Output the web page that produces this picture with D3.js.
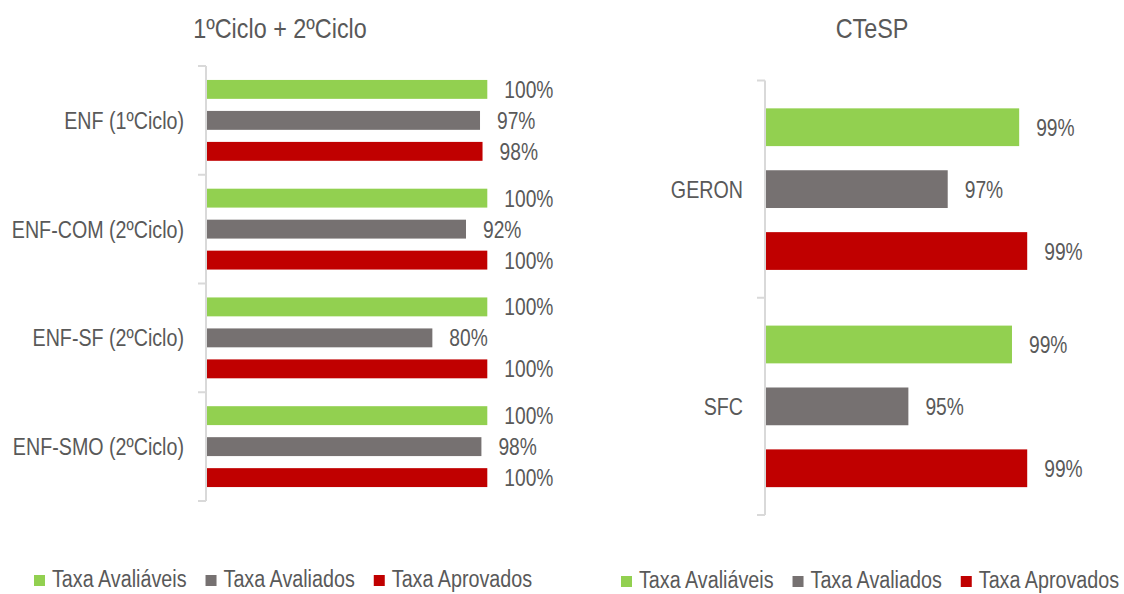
<!DOCTYPE html>
<html>
<head>
<meta charset="utf-8">
<script src="https://cdn.jsdelivr.net/npm/d3@7"></script>
<style>
  html, body { margin: 0; padding: 0; background: #ffffff; }
  svg { display: block; }
  text { font-family: "Liberation Sans", Arial, sans-serif; fill: #595959; }
</style>
</head>
<body>
<svg id="chart" width="1124" height="594"></svg>
<script>
// ---- data ----
const seriesNames = ["Taxa Avaliáveis", "Taxa Avaliados", "Taxa Aprovados"];
const seriesColors = ["#92d050", "#767171", "#c00000"];

const leftTitle = "1ºCiclo + 2ºCiclo";
const leftCategories = ["ENF (1ºCiclo)", "ENF-COM (2ºCiclo)", "ENF-SF (2ºCiclo)", "ENF-SMO (2ºCiclo)"];
const leftAvaliaveis = [1.00, 1.00, 1.00, 1.00];
const leftAvaliados  = [0.974, 0.924, 0.804, 0.979];
const leftAprovados  = [0.983, 1.00, 1.00, 1.00];

const rightTitle = "CTeSP";
const rightCategories = ["GERON", "SFC"];
const rightAvaliaveis = [0.9914, 0.9888];
const rightAvaliados  = [0.9656, 0.9514];
const rightAprovados  = [0.9943, 0.9943];

const svg = d3.select("#chart");
const fmt = d3.format(".0%");

// condensed text helper (emulates a narrow font)
function ntext(parent, x, y, size, anchor, str, sx) {
  return parent.append("text")
    .attr("transform", `translate(${x},${y}) scale(${sx},1)`)
    .attr("text-anchor", anchor || "start")
    .style("font-size", size + "px")
    .text(str);
}

function panel(opts) {
  const { categories, series, xDomain, xRange, yRange, title, titleX } = opts;
  const g = svg.append("g");

  const y0 = d3.scaleBand().domain(categories).range(yRange).padding(0);
  const y1 = d3.scaleBand().domain(seriesNames).range([0, y0.bandwidth()])
    .paddingInner(0.39).paddingOuter(0.45);
  const x = d3.scaleLinear().domain(xDomain).range(xRange);

  // axis line + ticks at category boundaries
  const axisX = xRange[0] - 1;
  g.append("line")
    .attr("x1", axisX).attr("x2", axisX)
    .attr("y1", yRange[0]).attr("y2", yRange[1])
    .attr("stroke", "#d9d9d9").attr("stroke-width", 2);
  const boundaries = categories.map(c => y0(c)).concat([yRange[1]]);
  g.selectAll(".tick").data(boundaries).join("line")
    .attr("x1", axisX - 8).attr("x2", axisX)
    .attr("y1", d => d).attr("y2", d => d)
    .attr("stroke", "#d9d9d9").attr("stroke-width", 2);

  // category labels
  categories.forEach(c => {
    ntext(g, axisX - 22, y0(c) + y0.bandwidth() / 2 + 8.5, 24, "end", c, 0.82);
  });

  // bars
  const rows = [];
  categories.forEach((c, i) => {
    series.forEach((vals, s) => rows.push({ cat: c, s: seriesNames[s], color: seriesColors[s], v: vals[i] }));
  });
  g.selectAll(".bar").data(rows).join("rect")
    .attr("x", xRange[0])
    .attr("y", d => y0(d.cat) + y1(d.s))
    .attr("width", d => x(d.v) - xRange[0])
    .attr("height", y1.bandwidth())
    .attr("fill", d => d.color);

  rows.forEach(d => {
    ntext(g, x(d.v) + 17, y0(d.cat) + y1(d.s) + y1.bandwidth() / 2 + 8.5, 24, "start", fmt(d.v), 0.8);
  });

  // title
  ntext(g, titleX, 38, 28, "middle", title, 0.835);
}

panel({
  categories: leftCategories,
  series: [leftAvaliaveis, leftAvaliados, leftAprovados],
  xDomain: [0, 1], xRange: [207, 487.3], yRange: [66, 501],
  title: leftTitle, titleX: 280
});

panel({
  categories: rightCategories,
  series: [rightAvaliaveis, rightAvaliados, rightAprovados],
  xDomain: [0.9, 1.0], xRange: [766, 1043], yRange: [80.5, 515],
  title: rightTitle, titleX: 872
});

// legends
function legend(x0, baseline) {
  const g = svg.append("g");
  const LS = 0.84;
  let x = x0;
  seriesNames.forEach((name, i) => {
    g.append("rect")
      .attr("x", x).attr("y", baseline - 12)
      .attr("width", 11).attr("height", 11)
      .attr("fill", seriesColors[i]);
    const t = ntext(g, x + 18, baseline, 23.5, "start", name, LS);
    x = x + 18 + t.node().getComputedTextLength() * LS + 19;
  });
}
legend(34, 587);
legend(621, 588);
</script>
</body>
</html>
